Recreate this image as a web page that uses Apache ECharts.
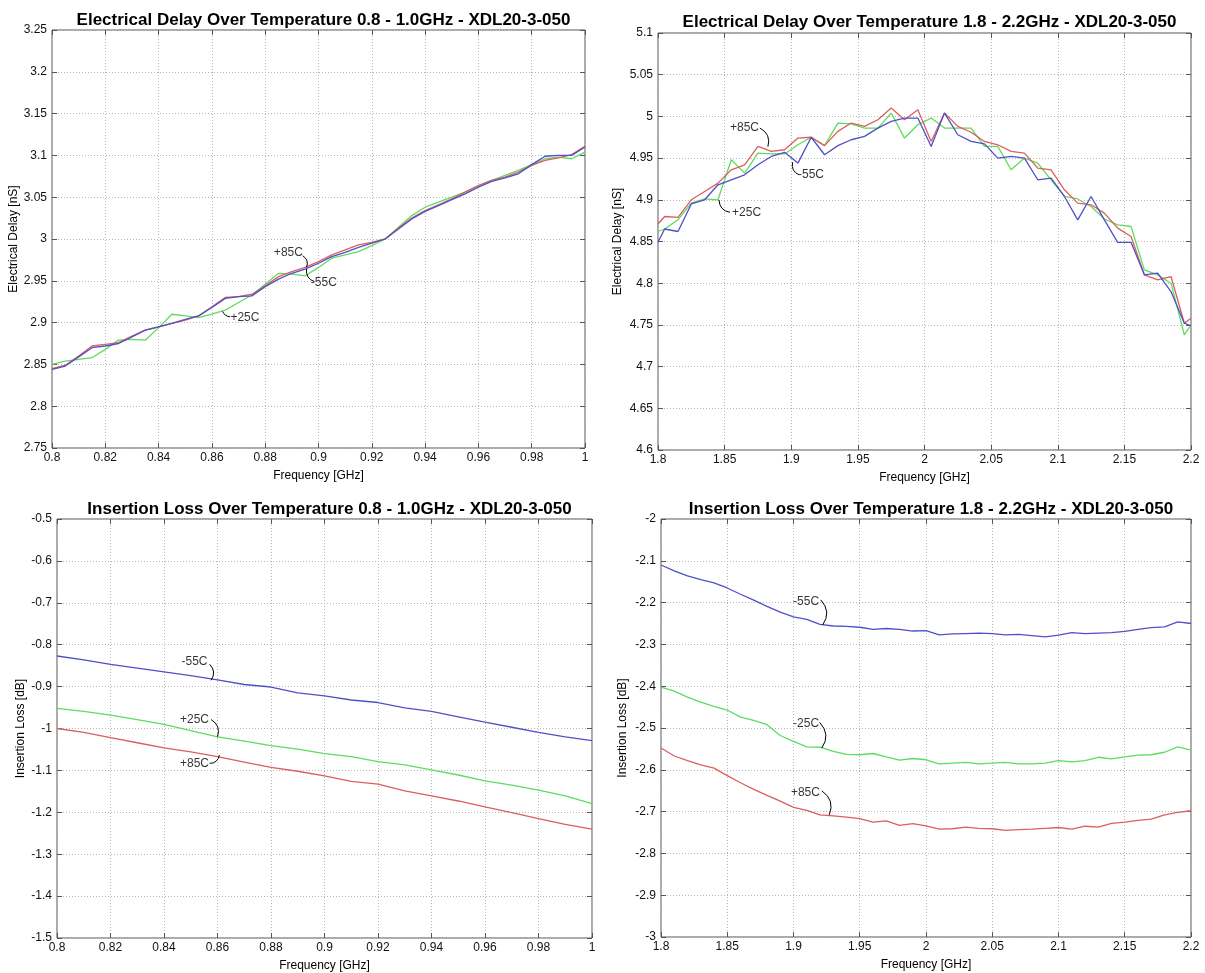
<!DOCTYPE html>
<html><head><meta charset="utf-8">
<script src="https://cdn.jsdelivr.net/npm/echarts@6/dist/echarts.min.js"></script>
<style>html,body{margin:0;padding:0;background:#fff}#c{width:1205px;height:973px}</style>
</head><body><div id="c"></div>
<script>
// ---------- DATA ----------
const titles = [
  'Electrical Delay Over Temperature 0.8 - 1.0GHz - XDL20-3-050',
  'Electrical Delay Over Temperature 1.8 - 2.2GHz - XDL20-3-050',
  'Insertion Loss Over Temperature 0.8 - 1.0GHz - XDL20-3-050',
  'Insertion Loss Over Temperature 1.8 - 2.2GHz - XDL20-3-050'
];
const xAxisName = 'Frequency [GHz]';
const yNames = ['Electrical Delay [nS]', 'Electrical Delay [nS]', 'Insertion Loss [dB]', 'Insertion Loss [dB]'];

// Electrical delay 0.8 - 1.0 GHz
const freqDelayLow = [0.800,0.805,0.810,0.815,0.820,0.825,0.830,0.835,0.840,0.845,0.850,0.855,0.860,0.865,0.870,0.875,0.880,0.885,0.890,0.895,0.900,0.905,0.910,0.915,0.920,0.925,0.930,0.935,0.940,0.945,0.950,0.955,0.960,0.965,0.970,0.975,0.980,0.985,0.990,0.995,1.000];
const delayLowM55 = [2.844,2.848,2.859,2.870,2.872,2.875,2.883,2.891,2.895,2.899,2.904,2.908,2.918,2.929,2.931,2.932,2.943,2.952,2.959,2.964,2.971,2.979,2.984,2.990,2.995,3.000,3.012,3.024,3.033,3.040,3.047,3.054,3.062,3.069,3.073,3.078,3.089,3.099,3.100,3.100,3.110];
const delayLowP25 = [2.850,2.854,2.856,2.858,2.868,2.879,2.880,2.879,2.894,2.910,2.908,2.906,2.910,2.915,2.924,2.933,2.946,2.959,2.958,2.956,2.966,2.977,2.981,2.985,2.992,3.000,3.014,3.028,3.038,3.044,3.050,3.056,3.064,3.070,3.076,3.082,3.089,3.096,3.098,3.096,3.104];
const delayLowP85 = [2.845,2.849,2.860,2.872,2.874,2.876,2.884,2.891,2.895,2.899,2.903,2.908,2.919,2.930,2.931,2.934,2.944,2.955,2.961,2.966,2.973,2.981,2.987,2.993,2.996,3.000,3.013,3.025,3.034,3.041,3.048,3.056,3.064,3.070,3.074,3.080,3.088,3.094,3.097,3.101,3.111];

// Electrical delay 1.8 - 2.2 GHz
const freqDelayHigh = [1.800,1.805,1.815,1.825,1.835,1.845,1.855,1.865,1.875,1.885,1.895,1.905,1.915,1.925,1.935,1.945,1.955,1.965,1.975,1.985,1.995,2.005,2.015,2.025,2.035,2.045,2.055,2.065,2.075,2.085,2.095,2.105,2.115,2.125,2.135,2.145,2.155,2.165,2.175,2.185,2.195,2.200];
const delayHighM55 = [4.849,4.865,4.862,4.895,4.900,4.918,4.924,4.930,4.942,4.952,4.957,4.944,4.975,4.954,4.965,4.972,4.976,4.986,4.994,4.998,4.998,4.964,5.004,4.978,4.970,4.967,4.950,4.952,4.950,4.924,4.926,4.904,4.876,4.904,4.876,4.849,4.849,4.810,4.812,4.790,4.752,4.749];
const delayHighP25 = [4.862,4.865,4.876,4.896,4.901,4.900,4.948,4.932,4.956,4.955,4.955,4.966,4.975,4.965,4.992,4.991,4.986,4.986,5.004,4.974,4.990,4.998,4.986,4.986,4.986,4.964,4.964,4.936,4.950,4.944,4.924,4.904,4.901,4.892,4.877,4.870,4.868,4.816,4.810,4.800,4.738,4.750];
const delayHighP85 = [4.871,4.880,4.879,4.900,4.910,4.920,4.936,4.942,4.964,4.958,4.960,4.974,4.975,4.965,4.982,4.992,4.988,4.996,5.010,4.996,5.008,4.970,5.004,4.988,4.981,4.970,4.966,4.958,4.956,4.938,4.936,4.912,4.896,4.894,4.884,4.866,4.856,4.810,4.804,4.808,4.752,4.758];

// Insertion loss 0.8 - 1.0 GHz
const freqLossLow = [0.80,0.81,0.82,0.83,0.84,0.85,0.86,0.87,0.88,0.89,0.90,0.91,0.92,0.93,0.94,0.95,0.96,0.97,0.98,0.99,1.00];
const lossLowM55 = [-0.827,-0.836,-0.847,-0.856,-0.865,-0.874,-0.884,-0.895,-0.901,-0.915,-0.922,-0.932,-0.938,-0.951,-0.959,-0.972,-0.985,-0.997,-1.009,-1.020,-1.029];
const lossLowP25 = [-0.952,-0.959,-0.968,-0.979,-0.990,-1.005,-1.020,-1.030,-1.041,-1.049,-1.060,-1.067,-1.079,-1.087,-1.099,-1.111,-1.125,-1.135,-1.147,-1.161,-1.179];
const lossLowP85 = [-1.000,-1.009,-1.022,-1.034,-1.046,-1.056,-1.067,-1.080,-1.093,-1.102,-1.113,-1.126,-1.133,-1.149,-1.161,-1.173,-1.187,-1.201,-1.215,-1.229,-1.240];

// Insertion loss 1.8 - 2.2 GHz
const freqLossHigh = [1.80,1.81,1.82,1.83,1.84,1.85,1.86,1.87,1.88,1.89,1.90,1.91,1.92,1.93,1.94,1.95,1.96,1.97,1.98,1.99,2.00,2.01,2.02,2.03,2.04,2.05,2.06,2.07,2.08,2.09,2.10,2.11,2.12,2.13,2.14,2.15,2.16,2.17,2.18,2.19,2.20];
const lossHighM55 = [-2.110,-2.124,-2.136,-2.145,-2.153,-2.165,-2.180,-2.194,-2.209,-2.223,-2.234,-2.240,-2.252,-2.256,-2.257,-2.259,-2.264,-2.262,-2.264,-2.268,-2.267,-2.277,-2.275,-2.274,-2.273,-2.274,-2.277,-2.276,-2.279,-2.282,-2.278,-2.272,-2.274,-2.273,-2.272,-2.269,-2.264,-2.260,-2.258,-2.246,-2.250];
const lossHighP25 = [-2.402,-2.412,-2.426,-2.438,-2.448,-2.457,-2.474,-2.482,-2.492,-2.518,-2.532,-2.545,-2.546,-2.556,-2.563,-2.564,-2.561,-2.569,-2.577,-2.573,-2.576,-2.586,-2.584,-2.582,-2.586,-2.584,-2.582,-2.586,-2.586,-2.584,-2.578,-2.581,-2.578,-2.570,-2.574,-2.569,-2.565,-2.564,-2.558,-2.545,-2.553];
const lossHighP85 = [-2.548,-2.567,-2.578,-2.588,-2.596,-2.614,-2.631,-2.647,-2.661,-2.675,-2.690,-2.697,-2.708,-2.710,-2.713,-2.717,-2.725,-2.722,-2.733,-2.729,-2.734,-2.742,-2.741,-2.737,-2.740,-2.741,-2.745,-2.743,-2.742,-2.740,-2.738,-2.742,-2.735,-2.737,-2.728,-2.725,-2.721,-2.718,-2.708,-2.702,-2.698];

// axis ranges [min, max, interval]
const xRanges = [[0.8, 1.0, 0.02], [1.8, 2.2, 0.05], [0.8, 1.0, 0.02], [1.8, 2.2, 0.05]];
const yRanges = [[2.75, 3.25, 0.05], [4.6, 5.1, 0.05], [-1.5, -0.5, 0.1], [-3, -2, 0.1]];

// curve labels: text, text centre, leader start, leader end (data coords)
const annTexts = [
  ['+85C', '-55C', '+25C'],
  ['+85C', '-55C', '+25C'],
  ['-55C', '+25C', '+85C'],
  ['-55C', '-25C', '+85C']
];
const annAt = [
  [[0.8887, 2.9838], [0.9020, 2.9478], [0.8724, 2.9062]],
  [[1.8649, 4.986], [1.9148, 4.9297], [1.8665, 4.884]],
  [[0.8514, -0.8413], [0.8514, -0.9786], [0.8514, -1.0849]],
  [[1.9095, -2.1976], [1.9095, -2.4904], [1.9090, -2.6544]]
];
const annFrom = [
  [[0.8941, 2.980], [0.8955, 2.964], [0.8640, 2.9134]],
  [[1.8765, 4.986], [1.9010, 4.945], [1.8458, 4.8998]],
  [[0.8571, -0.8468], [0.8576, -0.9786], [0.8571, -1.0833]],
  [[1.9206, -2.1936], [1.9197, -2.4864], [1.9214, -2.6504]]
];
const annTo = [
  [[0.8955, 2.966], [0.8985, 2.949], [0.8668, 2.907]],
  [[1.8825, 4.9637], [1.9058, 4.930], [1.8540, 4.885]],
  [[0.8576, -0.8849], [0.8600, -1.0198], [0.8607, -1.0635]],
  [[1.9220, -2.2536], [1.9214, -2.548], [1.9270, -2.708]]
];

// ---------- LAYOUT / STYLE ----------
const FONT = 'Liberation Sans, Arial, Helvetica, sans-serif';
const grids = [
  {left: 52, top: 30, width: 533, height: 418},
  {left: 658, top: 33, width: 533, height: 417},
  {left: 57, top: 519, width: 535, height: 419},
  {left: 661, top: 519, width: 530, height: 418}
];
const titleTops = [7, 9, 496, 496];
const yNameGaps = [32, 34, 30, 32];
const leaderBend = [[0.4, -0.4, -0.3], [0.4, -0.4, -0.4], [0.4, 0.4, -0.4], [0.4, 0.4, 0.4]];
const colM55 = '#5050c8', colP25 = '#5fdc5f', colP85 = '#dc5e5e';

const panelData = [
  {x: freqDelayLow, m55: delayLowM55, p25: delayLowP25, p85: delayLowP85},
  {x: freqDelayHigh, m55: delayHighM55, p25: delayHighP25, p85: delayHighP85},
  {x: freqLossLow, m55: lossLowM55, p25: lossLowP25, p85: lossLowP85},
  {x: freqLossHigh, m55: lossHighM55, p25: lossHighP25, p85: lossHighP85}
];

const option = {
  animation: false,
  backgroundColor: '#fff',
  title: [], grid: [], xAxis: [], yAxis: [], series: []
};
const zip = (xs, ys) => xs.map((x, i) => [x, ys[i]]);

panelData.forEach((p, i) => {
  const g = grids[i];
  option.grid.push(Object.assign({show: true, borderColor: '#555', borderWidth: 1, backgroundColor: '#fff', containLabel: false}, g));
  option.title.push({
    text: titles[i], left: g.left + g.width / 2, top: titleTops[i], textAlign: 'center',
    textStyle: {fontFamily: FONT, fontSize: 17, fontWeight: 'bold', color: '#000'}
  });
  const [xmin, xmax, xint] = xRanges[i];
  const [ymin, ymax, yint] = yRanges[i];
  const gridLine = {show: true, lineStyle: {color: '#b8b8b8', type: [1, 2], width: 1}};
  const tick = {show: true, inside: true, length: 5, lineStyle: {color: '#555'}};
  option.xAxis.push({
    type: 'value', gridIndex: i, min: xmin, max: xmax, interval: xint, position: 'bottom',
    name: xAxisName, nameLocation: 'middle', nameGap: 22,
    nameTextStyle: {fontFamily: FONT, fontSize: 12, color: '#000'},
    axisLine: {show: false}, axisTick: tick,
    axisLabel: {fontFamily: FONT, fontSize: 12, color: '#111', margin: 4},
    splitLine: gridLine
  });
  option.xAxis.push({
    type: 'value', gridIndex: i, min: xmin, max: xmax, interval: xint, position: 'top',
    axisLine: {show: false}, axisTick: tick,
    axisLabel: {show: false}, splitLine: {show: false}
  });
  option.yAxis.push({
    type: 'value', gridIndex: i, min: ymin, max: ymax, interval: yint, position: 'left',
    name: yNames[i], nameLocation: 'middle', nameGap: yNameGaps[i], nameRotate: 90,
    nameTextStyle: {fontFamily: FONT, fontSize: 12, color: '#000'},
    axisLine: {show: false}, axisTick: tick,
    axisLabel: {fontFamily: FONT, fontSize: 12, color: '#111', margin: 5},
    splitLine: gridLine
  });
  option.yAxis.push({
    type: 'value', gridIndex: i, min: ymin, max: ymax, interval: yint, position: 'right',
    axisLine: {show: false}, axisTick: tick,
    axisLabel: {show: false}, splitLine: {show: false}
  });
  const xi = 2 * i, yi = 2 * i;
  [['+25C', p.p25, colP25], ['+85C', p.p85, colP85], ['-55C', p.m55, colM55]].forEach(([nm, ys, col]) => {
    option.series.push({
      type: 'line', name: nm, xAxisIndex: xi, yAxisIndex: yi, data: zip(p.x, ys),
      showSymbol: false, symbol: 'none', lineStyle: {color: col, width: 1.3}, silent: true, z: 3
    });
  });
  option.series.push({
    type: 'scatter', xAxisIndex: xi, yAxisIndex: yi, silent: true, z: 5,
    symbolSize: 0.1, itemStyle: {color: 'rgba(0,0,0,0)'},
    data: annTexts[i].map((t, k) => ({name: t, value: annAt[i][k]})),
    label: {show: true, position: 'inside', formatter: '{b}', fontFamily: FONT, fontSize: 12, color: '#000'}
  });
  option.series.push({
    type: 'lines', coordinateSystem: 'cartesian2d', xAxisIndex: xi, yAxisIndex: yi, silent: true, z: 5,
    lineStyle: {color: '#000', width: 1, opacity: 1},
    data: annTexts[i].map((t, k) => ({coords: [annFrom[i][k], annTo[i][k]], lineStyle: {curveness: leaderBend[i][k]}}))
  });
});

const chart = echarts.init(document.getElementById('c'), null, {renderer: 'canvas'});
chart.setOption(option);
</script>
</body></html>
